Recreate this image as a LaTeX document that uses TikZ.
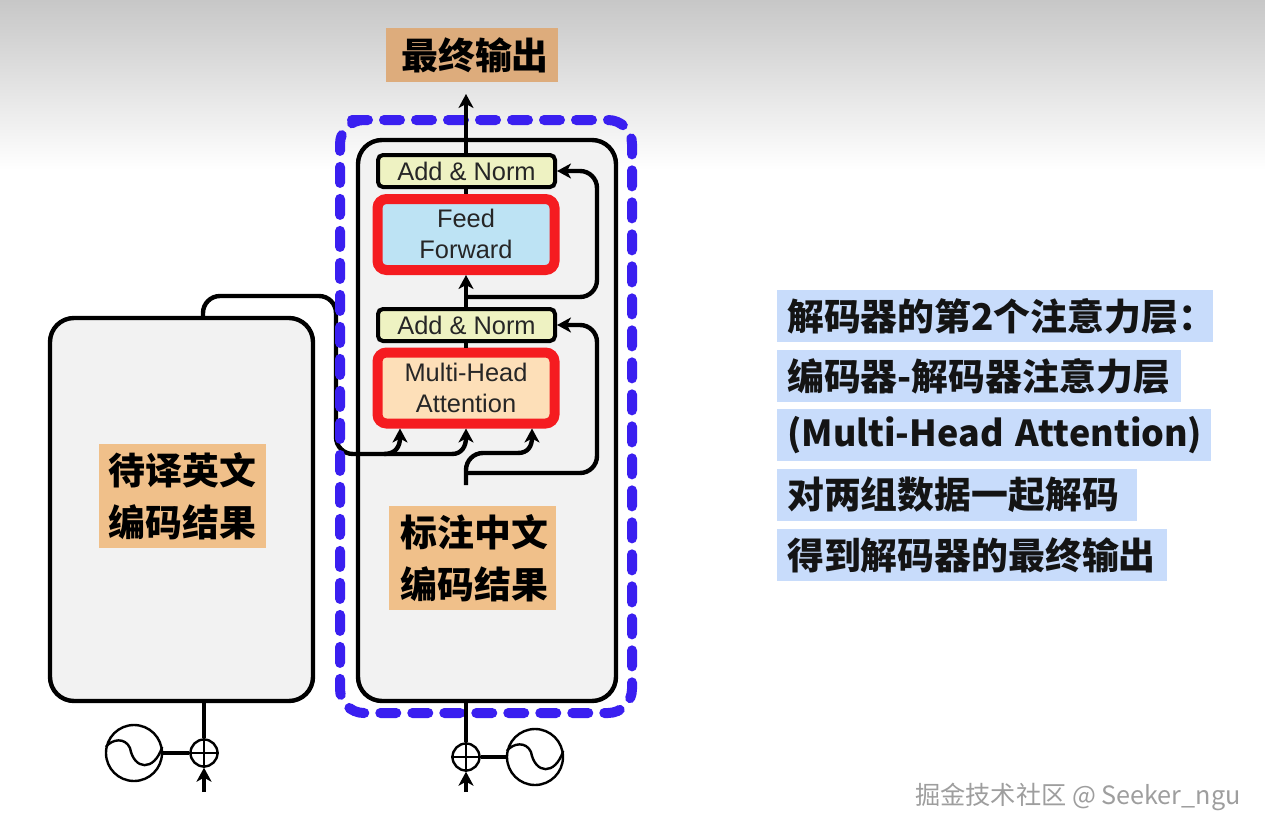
\documentclass[tikz,border=0pt]{standalone}
\usepackage{fontspec}
\setmainfont{Liberation Sans}
\newfontfamily\cjk{Noto Sans CJK SC}
\usetikzlibrary{arrows.meta}
\definecolor{panelgray}{HTML}{F2F2F2}
\definecolor{dashblue}{HTML}{3A1FF0}
\definecolor{redbox}{HTML}{F51C20}
\definecolor{normfill}{HTML}{EEF2C2}
\definecolor{feedfill}{HTML}{BDE3F4}
\definecolor{attfill}{HTML}{FDDFB8}
\definecolor{labelorange}{HTML}{F0C08A}
\definecolor{topfill}{HTML}{DDAC7C}
\definecolor{noteblue}{HTML}{C8DCFB}
\newcommand{\notetext}[1]{\makebox[\linewidth][l]{#1}}
\tikzset{
  x=1bp,y=-1bp,
  panel/.style={draw=black,fill=panelgray,line width=4.4bp,rounded corners=24bp,inner sep=0pt,outer sep=0pt},
  normbox/.style={draw=black,fill=normfill,line width=4bp,rounded corners=5bp,minimum width=177bp,minimum height=32bp,inner sep=0pt,text=black!85,font=\fontsize{25.5}{31}\selectfont},
  redblock/.style={draw=redbox,line width=10bp,rounded corners=9bp,minimum width=177bp,minimum height=71bp,inner sep=0pt,align=center,text=black!85,font=\fontsize{25.5}{31}\selectfont},
  cjklabel/.style={inner sep=0pt,align=center,font=\cjk\bfseries\fontsize{37}{52}\selectfont,text=black},
  note/.style={fill=noteblue,anchor=west,inner xsep=10bp,inner ysep=0pt,minimum height=52bp,align=left,font=\cjk\bfseries\fontsize{37}{44}\selectfont,text=black!92},
  conn/.style={draw=black,line width=4.4bp,rounded corners=17bp},
  tipconn/.style={conn,-{Stealth[length=14bp,width=15bp,inset=4bp]}},
  summer/.style={circle,draw=black,fill=white,line width=2.4bp,minimum size=27bp,inner sep=0pt},
  wave/.style={circle,draw=black,fill=white,line width=2.4bp,minimum size=56bp,inner sep=0pt},
  thin stroke/.style={draw=black,line width=2.4bp},
  dashframe/.style={draw=dashblue,line width=10bp,rounded corners=24bp,line cap=round,dash pattern=on 16bp off 16bp}
}
\begin{document}
\begin{tikzpicture}
\useasboundingbox (0,0) rectangle (1265,835);
\fill[white] (0,0) rectangle (1265,835);
\shade[top color=black!22,bottom color=white] (0,0) rectangle (1265,170);

% panels
\node[panel,minimum width=263bp,minimum height=383bp] (enc) at (181.5,509.5) {};
\node[panel,minimum width=258bp,minimum height=561bp] (dec) at (487,420.5) {};

% encoder output connector (runs under the dashed frame)
\coordinate (encbendA) at (203,296);
\coordinate (encbendB) at (336,296);
\coordinate (encbendC) at (336,454);
\coordinate (encMid) at (452,454);
\draw[conn] (enc.north -| encbendA) -- (encbendA) -- (encbendB) -- (encbendC) -- (encMid);

% dashed frame
\draw[dashframe] (352,120) -- (632,120) -- (632,713) -- (340,713) -- (340,120) -- (352,120);

% blocks
\node[normbox] (an2) at (466.5,171) {Add \& Norm};
\node[redblock,fill=feedfill] (ff) at (466,234.5) {\raisebox{1.5bp}{Feed}\\\raisebox{1.5bp}{Forward}};
\node[normbox] (an1) at (466.5,325) {Add \& Norm};
\node[redblock,fill=attfill] (mha) at (466,388) {Multi-Head\\Attention};

% top label
\node[fill=topfill,cjklabel,minimum width=172bp,minimum height=54bp] (out) at (472,55) {\kern6bp 最终输出};
\coordinate (outtip) at (466,94);
\draw[tipconn] (an2.north -| outtip) -- (outtip);
\draw[conn] (an2.south -| outtip) -- (ff.north -| outtip);
\draw[conn] (an1.south -| outtip) -- (mha.north -| outtip);
\draw[tipconn] (an1.north -| outtip) -- (ff.south -| outtip);

% residual connectors
\coordinate (resA) at (466,297);
\coordinate (resB) at (597,297);
\coordinate (resC) at (597,171);
\draw[tipconn] (resA) -- (resB) -- (resC) -- (an2.east);
\coordinate (inA) at (466,485);
\coordinate (resD) at (466,473);
\coordinate (resE) at (597,473);
\coordinate (resF) at (597,325);
\draw[tipconn] (resD) -- (resE) -- (resF) -- (an1.east);

% attention inputs
\draw[conn,-{Stealth[length=14bp,width=15bp,inset=4bp]},rounded corners=0pt]
  (384,454) .. controls (396,454) and (400,446) .. ([xshift=-66bp]mha.south);
\draw[conn,-{Stealth[length=14bp,width=15bp,inset=4bp]},rounded corners=0pt]
  (encMid) .. controls (462,454) and (466,446) .. (mha.south);
\coordinate (inB) at (466,453);
\coordinate (inC) at (518,453);
\draw[conn] (inA) -- (inB) -- (inC);
\draw[conn,-{Stealth[length=14bp,width=15bp,inset=4bp]},rounded corners=0pt]
  (inC) .. controls (528,453) and (532,446) .. ([xshift=66bp]mha.south);

% positional encoding, left
\node[summer] (sumL) at (204,753) {};
\draw[thin stroke] (sumL.north) -- (sumL.south) (sumL.west) -- (sumL.east);
\node[wave] (waveL) at (134,753) {};
\draw[thin stroke] (waveL.west) ++(1,-6) .. controls (112,739) and (125,737) .. (130,748)
   .. controls (134,770) and (154,772) .. ([yshift=6bp,xshift=-1bp]waveL.east);
\draw[conn] (enc.south -| sumL) -- (sumL.north);
\draw[conn] (waveL.east) -- (sumL.west);
\coordinate (inL) at (204,792);
\draw[tipconn,line width=4.8bp] (inL) -- (sumL.south);

% positional encoding, right
\node[summer] (sumR) at (466,757) {};
\draw[thin stroke] (sumR.north) -- (sumR.south) (sumR.west) -- (sumR.east);
\node[wave] (waveR) at (535,757) {};
\draw[thin stroke] (waveR.west) ++(1,-6) .. controls (513,743) and (526,741) .. (531,752)
   .. controls (535,774) and (555,776) .. ([yshift=6bp,xshift=-1bp]waveR.east);
\draw[conn] (dec.south -| sumR) -- (sumR.north);
\draw[conn] (sumR.east) -- (waveR.west);
\coordinate (inR) at (466,792);
\draw[tipconn,line width=4.8bp] (inR) -- (sumR.south);

% orange labels
\node[fill=labelorange,cjklabel,minimum width=167bp,minimum height=104bp] (srcl) at (182.5,496) {待译英文\\编码结果};
\node[fill=labelorange,cjklabel,minimum width=167bp,minimum height=104bp] (tgtl) at (472.5,558) {\kern4bp 标注中文\\\kern4bp 编码结果};

% notes
\node[note,text width=416bp] (n1) at (777,316) {\notetext{解码器的第2个注意力层：}};
\node[note,text width=384bp] (n2) at (777,376) {\notetext{编码器-解码器注意力层}};
\node[note,text width=414bp] (n3) at (777,435) {\notetext{\fontsize{36}{44}\selectfont\raisebox{-2bp}{(Multi-Head Attention)}}};
\node[note,text width=340bp] (n4) at (777,495) {\notetext{对两组数据一起解码}};
\node[note,text width=370bp] (n5) at (777,555) {\notetext{得到解码器的最终输出}};

% watermark
\node[anchor=west,inner sep=0pt,text=black!38,font=\cjk\fontsize{25.3}{30}\selectfont] (mark) at (915,797) {掘金技术社区 @ Seeker\_ngu};
\end{tikzpicture}
\end{document}
